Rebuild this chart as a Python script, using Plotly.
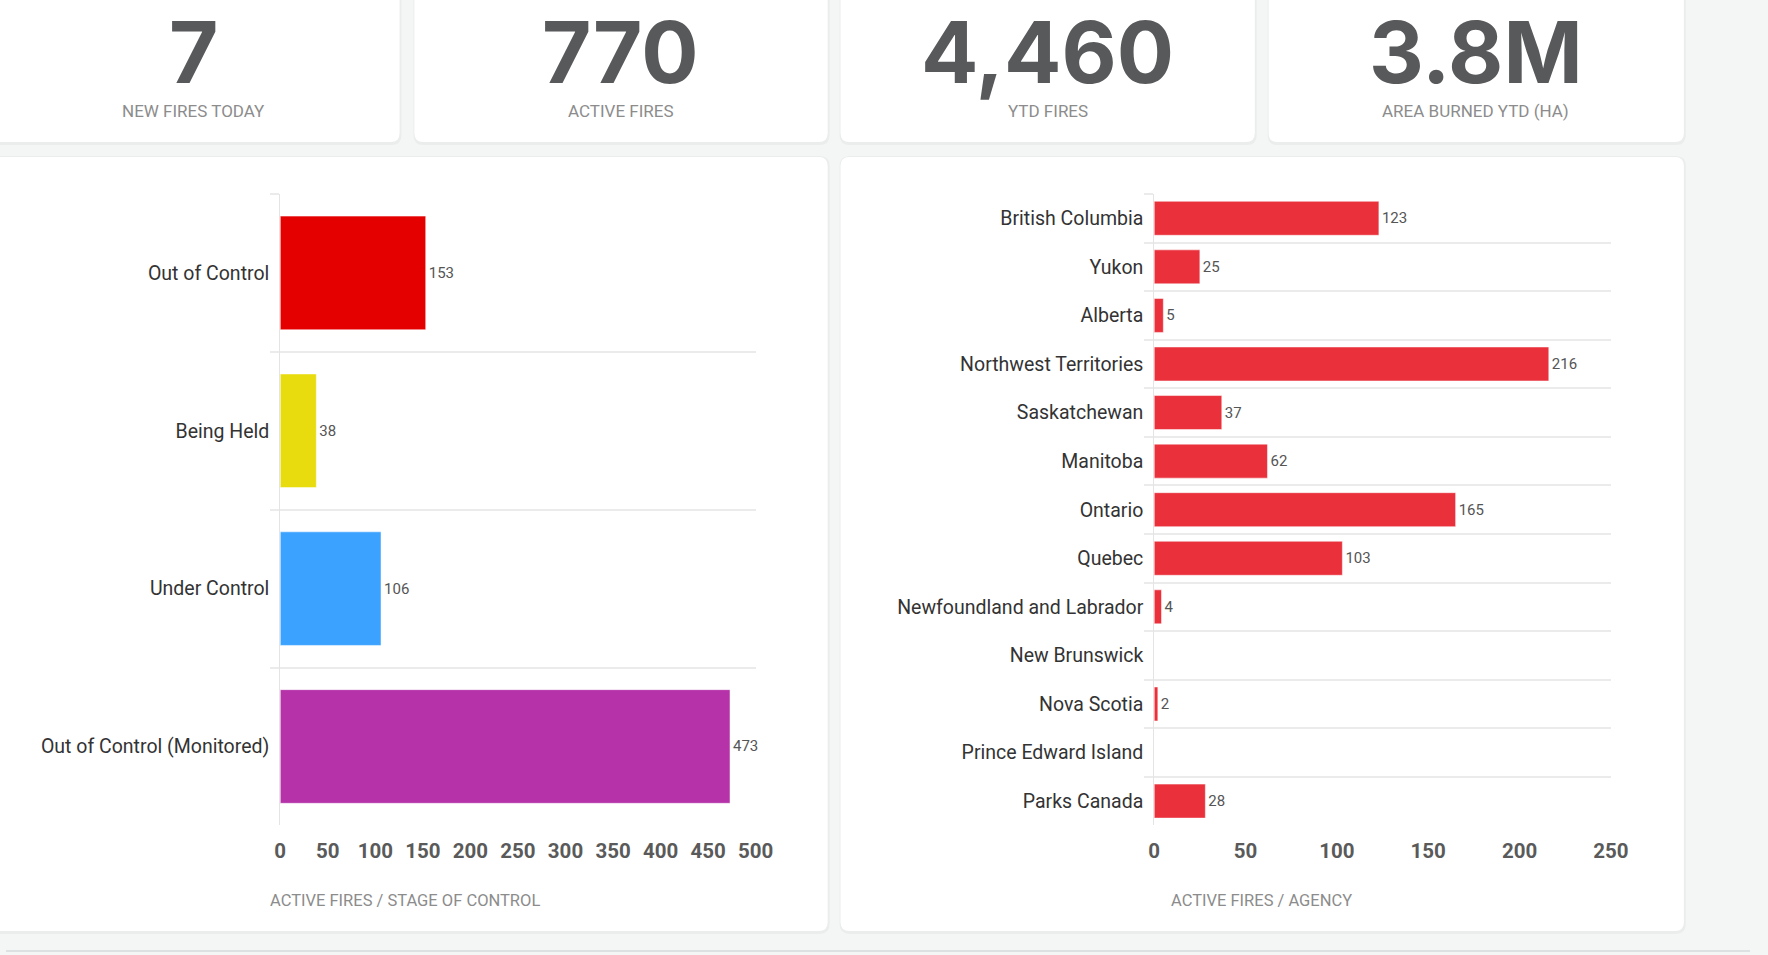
import plotly.graph_objects as go

W, H = 1768, 955

# top KPI cards
kpi_values = ["7", "770", "4,460", "3.8M"]
kpi_labels = ["NEW FIRES TODAY", "ACTIVE FIRES", "YTD FIRES", "AREA BURNED YTD (HA)"]

# stage of control chart
stages = ["Out of Control", "Being Held", "Under Control", "Out of Control (Monitored)"]
stage_counts = [153, 38, 106, 473]
stage_colors = ["#e50000", "#e8dc0f", "#3ba3ff", "#b532a9"]
stage_ticks = [0, 50, 100, 150, 200, 250, 300, 350, 400, 450, 500]

# agency chart
agencies = ["British Columbia", "Yukon", "Alberta", "Northwest Territories", "Saskatchewan",
            "Manitoba", "Ontario", "Quebec", "Newfoundland and Labrador", "New Brunswick",
            "Nova Scotia", "Prince Edward Island", "Parks Canada"]
agency_counts = [123, 25, 5, 216, 37, 62, 165, 103, 4, 0, 2, 0, 28]
agency_ticks = [0, 50, 100, 150, 200, 250]


def px(x):
    return x / W


def py(y):
    return 1 - y / H


def card(x0, y0, x1, y1, r=9):
    # rounded rectangle in pixel coords -> paper path
    def p(x, y):
        return f"{px(x):.5f},{py(y):.5f}"
    path = (f"M {p(x0 + r, y0)} L {p(x1 - r, y0)} Q {p(x1, y0)} {p(x1, y0 + r)} "
            f"L {p(x1, y1 - r)} Q {p(x1, y1)} {p(x1 - r, y1)} "
            f"L {p(x0 + r, y1)} Q {p(x0, y1)} {p(x0, y1 - r)} "
            f"L {p(x0, y0 + r)} Q {p(x0, y0)} {p(x0 + r, y0)} Z")
    return path


fig = go.Figure()

fig.add_trace(go.Bar(
    x=stage_counts, y=stages, orientation="h",
    marker=dict(color=stage_colors, line=dict(color="rgba(255,255,255,0.5)", width=1)),
    text=[str(v) for v in stage_counts], textposition="outside",
    textfont=dict(family="Roboto", size=15, color="#555555"),
    cliponaxis=False, width=0.72, hoverinfo="x+y",
    xaxis="x", yaxis="y",
))

fig.add_trace(go.Bar(
    x=agency_counts, y=agencies, orientation="h",
    marker=dict(color="#e9303b", line=dict(color="rgba(255,255,255,0.5)", width=1)),
    text=[str(v) if v else "" for v in agency_counts], textposition="outside",
    textfont=dict(family="Roboto", size=15, color="#555555"),
    cliponaxis=False, width=0.7, hoverinfo="x+y",
    xaxis="x2", yaxis="y2",
))

shapes = []
# soft shadows + white cards
boxes = [(-20, -30, 399, 142), (414, -30, 833, 142), (846, -30, 1266, 142), (1280, -30, 1701, 142),
         (-20, 157, 833, 931), (846, 157, 1701, 931)]
for b in boxes:
    shapes.append(dict(type="path", xref="paper", yref="paper", layer="below",
                       path=card(b[0] - 1, b[1] - 1, b[2] + 2, b[3] + 3, 10),
                       fillcolor="rgba(0,0,0,0.035)", line=dict(width=0)))
    shapes.append(dict(type="path", xref="paper", yref="paper", layer="below",
                       path=card(*b), fillcolor="white", line=dict(width=0)))
shapes.append(dict(type="line", xref="paper", yref="paper", x0=0, x1=1, y0=py(951), y1=py(951),
                   line=dict(color="#dde1e1", width=2)))

annotations = []
kpi_x = [190, 623, 1056, 1490]
for cx, v, lab in zip(kpi_x, kpi_values, kpi_labels):
    annotations.append(dict(x=px(cx), y=1, xref="paper", yref="paper", text=v,
                            showarrow=False, xanchor="center", yanchor="top", borderpad=0,
                            font=dict(family="Inter", size=85, color="#58595b", weight=700)))
    annotations.append(dict(x=px(cx), y=py(111), xref="paper", yref="paper", text=lab,
                            showarrow=False, xanchor="center", yanchor="middle",
                            font=dict(family="Roboto", size=17, color="#8c8c8c")))

annotations.append(dict(x=px(404), y=py(900), xref="paper", yref="paper",
                        xanchor="center", yanchor="middle",
                        text="ACTIVE FIRES / STAGE OF CONTROL", showarrow=False,
                        font=dict(family="Roboto", size=16.5, color="#8c8c8c")))
annotations.append(dict(x=px(1273), y=py(900), xref="paper", yref="paper",
                        xanchor="center", yanchor="middle",
                        text="ACTIVE FIRES / AGENCY", showarrow=False,
                        font=dict(family="Roboto", size=16.5, color="#8c8c8c")))

cat_axis = dict(type="category", autorange="reversed", tickson="boundaries",
                showgrid=True, gridcolor="#ebebeb", gridwidth=2,
                ticks="outside", ticklen=9, tickcolor="#ebebeb", tickwidth=2,
                ticklabelstandoff=6,
                showline=True, linecolor="#e4e4e4", linewidth=1, zeroline=False,
                tickfont=dict(family="Roboto", size=19.5, color="#333333"),
                fixedrange=True)
val_axis = dict(showgrid=False, zeroline=False, showline=False, ticks="",
                ticklabelstandoff=11,
                tickfont=dict(family="Roboto", size=20.5, color="#5a5a5a", weight=700),
                fixedrange=True)

fig.update_layout(
    width=W, height=H,
    margin=dict(l=0, r=0, t=0, b=0),
    paper_bgcolor="#f4f5f5",
    plot_bgcolor="rgba(0,0,0,0)",
    showlegend=False,
    bargap=0.3,
    xaxis=dict(val_axis, domain=[px(278), px(760)], range=[0, 500],
               tickvals=stage_ticks, anchor="y"),
    yaxis=dict(cat_axis, domain=[py(825.4), py(194)], anchor="x"),
    xaxis2=dict(val_axis, domain=[px(1164), px(1627)], range=[0, 250],
                tickvals=agency_ticks, anchor="y2"),
    yaxis2=dict(cat_axis, domain=[py(825.4), py(194)], anchor="x2"),
    shapes=shapes,
    annotations=annotations,
)

fig.write_html("out.html", config={"displayModeBar": False},
               post_script="document.body.style.margin='0px';document.body.style.overflow='hidden';")
